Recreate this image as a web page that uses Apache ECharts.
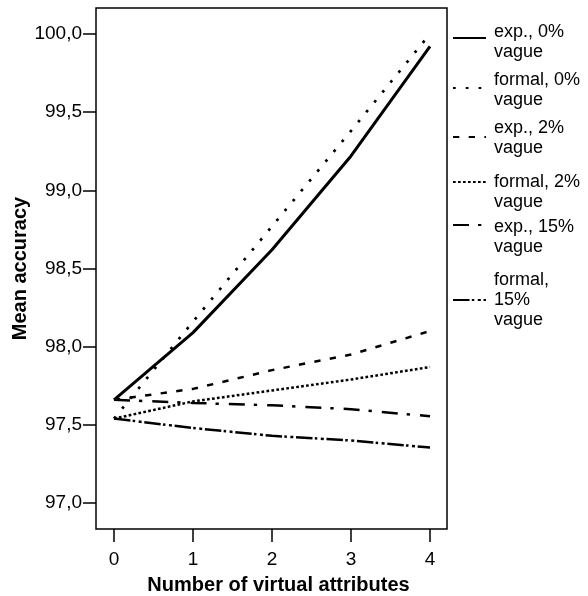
<!DOCTYPE html>
<html>
<head>
<meta charset="utf-8">
<script src="https://cdn.jsdelivr.net/npm/echarts@6/dist/echarts.min.js"></script>
<style>
  html, body { margin: 0; padding: 0; background: #fff; }
  #chart { width: 588px; height: 596px; }
</style>
</head>
<body>
<div id="chart"></div>
<script>
// Number of virtual attributes (x values)
const attributes = [0, 1, 2, 3, 4];

// Series names and their legend captions
const seriesNames = [
  'exp., 0% vague', 'formal, 0% vague', 'exp., 2% vague',
  'formal, 2% vague', 'exp., 15% vague', 'formal, 15% vague'
];
const legendLabels = [
  'exp., 0%\nvague', 'formal, 0%\nvague', 'exp., 2%\nvague',
  'formal, 2%\nvague', 'exp., 15%\nvague', 'formal,\n15%\nvague'
];

// Mean accuracy per number of virtual attributes
const exp0     = [97.66, 98.09, 98.62, 99.22, 99.92];
const formal0  = [97.54, 98.16, 98.77, 99.38, 100.00];
const exp2     = [97.66, 97.73, 97.85, 97.95, 98.10];
const formal2  = [97.54, 97.65, 97.72, 97.79, 97.87];
const exp15    = [97.66, 97.64, 97.625, 97.60, 97.555];
const formal15 = [97.54, 97.48, 97.43, 97.40, 97.355];

// Tick positions
const xTicks = [0, 1, 2, 3, 4];
const yTicks = [97.0, 97.5, 98.0, 98.5, 99.0, 99.5, 100.0];

const values = [exp0, formal0, exp2, formal2, exp15, formal15];
const dashes = [
  'solid',
  [2.7, 10.1],
  [6.3, 9.4],
  [2.7, 2.3],
  [16, 9, 3.3, 10],
  [16.5, 2.3, 2.5, 3.5, 3, 2.7]
];
const widths = [3, 2.7, 2.5, 2.5, 2.5, 2.5];

const FONT = 'Liberation Sans, Arial, sans-serif';
const LINE_H = 20;

// Legend layout: vertical centre of each key line and of each caption's first line
const keyY = [38, 88, 137, 182, 225, 300];
const captionY = [32, 80, 128, 182, 227, 280];

const series = seriesNames.map((name, i) => ({
  name: name,
  type: 'line',
  symbol: 'none',
  silent: true,
  data: attributes.map((x, k) => [x, values[i][k]]),
  lineStyle: { color: '#000', width: widths[i], type: dashes[i], cap: 'butt' },
  itemStyle: { color: '#000' }
}));

const legendBase = {
  orient: 'vertical',
  padding: 0,
  itemWidth: 33,
  itemHeight: 14,
  selectedMode: false,
  itemStyle: { opacity: 0 },
  textStyle: { fontFamily: FONT, fontSize: 18, lineHeight: LINE_H, color: '#000' }
};

// Line keys (no caption)
const keyLegends = seriesNames.map((name, i) => Object.assign({}, legendBase, {
  left: 452,
  top: keyY[i] - LINE_H / 2,
  data: [name],
  formatter: () => ' '
}));

// Captions (key line hidden)
const captionLegends = seriesNames.map((name, i) => Object.assign({}, legendBase, {
  left: 455,
  top: captionY[i] - LINE_H / 2,
  data: [name],
  lineStyle: { opacity: 0 },
  formatter: () => legendLabels[i]
}));

const chart = echarts.init(document.getElementById('chart'), null, { renderer: 'canvas' });
chart.setOption({
  animation: false,
  backgroundColor: '#fff',
  grid: {
    left: 96, right: 141, top: 8, bottom: 67,
    containLabel: false,
    outerBoundsMode: 'none',
    show: true, borderColor: '#000', borderWidth: 1.5, backgroundColor: 'transparent'
  },
  legend: keyLegends.concat(captionLegends),
  xAxis: {
    type: 'value',
    min: -0.228,
    max: 4.215,
    name: 'Number of virtual attributes',
    nameLocation: 'middle',
    nameGap: 46,
    nameMoveOverlap: false,
    nameTextStyle: { fontFamily: FONT, fontSize: 20, fontWeight: 'bold', color: '#000', padding: [0, 0, 0, 14] },
    axisLine: { show: false, onZero: false },
    axisTick: { show: true, inside: false, length: 13, customValues: xTicks, lineStyle: { color: '#000', width: 1.5 } },
    axisLabel: { customValues: xTicks, margin: 21, fontFamily: FONT, fontSize: 19, color: '#000' },
    splitLine: { show: false }
  },
  yAxis: {
    type: 'value',
    min: 96.834,
    max: 100.166,
    name: 'Mean accuracy',
    nameLocation: 'middle',
    nameGap: 66,
    nameMoveOverlap: false,
    nameTextStyle: { fontFamily: FONT, fontSize: 20, fontWeight: 'bold', color: '#000' },
    axisLine: { show: false, onZero: false },
    axisTick: { show: true, inside: false, length: 13, customValues: yTicks, lineStyle: { color: '#000', width: 1.5 } },
    axisLabel: {
      customValues: yTicks, margin: 14, fontFamily: FONT, fontSize: 19, color: '#000',
      formatter: v => v.toFixed(1).replace('.', ',')
    },
    splitLine: { show: false }
  },
  series: series
});
</script>
</body>
</html>
